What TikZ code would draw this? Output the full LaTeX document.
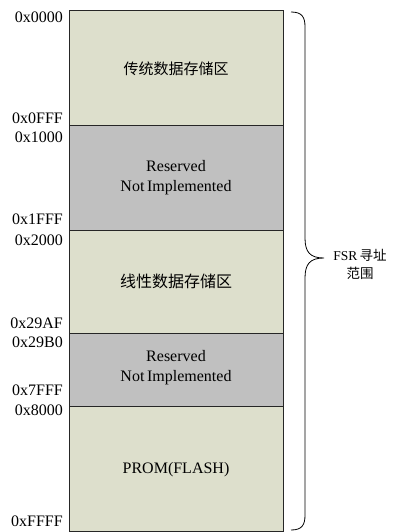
\documentclass[tikz,border=0pt]{standalone}
\usepackage{fontspec}
\setmainfont{Liberation Serif}
\newfontfamily\cjk{Noto Sans CJK SC}
\definecolor{memlight}{HTML}{DDDFCC}
\definecolor{memgray}{HTML}{C0C0C0}
\begin{document}
\begin{tikzpicture}[x=1pt,y=-1pt,
  region/.style={draw=black!85,line width=0.8pt},
  addr/.style={anchor=east,font=\fontsize{16}{18}\selectfont,inner sep=0pt},
  txt/.style={align=center,font=\fontsize{16}{20}\selectfont,inner sep=0pt}]
\useasboundingbox (0,0) rectangle (393,532);
\fill[white] (0,0) rectangle (393,532);
% regions
\path[region,fill=memlight] (69,10) rectangle (283,125);
\path[region,fill=memgray] (69,125) rectangle (283,230);
\path[region,fill=memlight] (69,230) rectangle (283,333);
\path[region,fill=memgray] (69,333) rectangle (283,406);
\path[region,fill=memlight] (69,406) rectangle (283,531);
% region texts
\node[txt,font=\fontsize{15}{20}\selectfont] (r1) at (176,69) {\cjk 传统数据存储区};
\node[txt] (r2) at (176,178) {Reserved\\Not\,Implemented};
\node[txt] (r3) at (176,281) {\cjk 线性数据存储区};
\node[txt] (r4) at (176,368) {Reserved\\Not\,Implemented};
\node[txt] (r5) at (176,470) {PROM(FLASH)};
% addresses
\node[addr] (a0) at (63,17) {0x0000};
\node[addr] (a1) at (63,118) {0x0FFF};
\node[addr] (a2) at (63,137) {0x1000};
\node[addr] (a3) at (63,219) {0x1FFF};
\node[addr] (a4) at (63,240) {0x2000};
\node[addr] (a5) at (63,323.5) {0x29AF};
\node[addr] (a6) at (63,342.5) {0x29B0};
\node[addr] (a7) at (63,390) {0x7FFF};
\node[addr] (a8) at (63,410.5) {0x8000};
\node[addr] (a9) at (63,521) {0xFFFF};
% brace
\coordinate (bt) at (291,12);
\coordinate (tip) at (324,258);
\coordinate (bb) at (291,530);
\draw[line width=0.8pt] (bt) .. controls (302,12) and (305,17) .. (305,27)
  -- (305,238) .. controls (305,252) and (310,258) .. (tip)
  .. controls (310,258) and (305,264) .. (305,278)
  -- (305,515) .. controls (305,525) and (302,530) .. (bb);
% label
\node[txt,anchor=center,font=\fontsize{13.5}{18}\selectfont] (lab) at (360,264) {FSR\,{\cjk 寻址}\\{\cjk 范围}};
\end{tikzpicture}
\end{document}
